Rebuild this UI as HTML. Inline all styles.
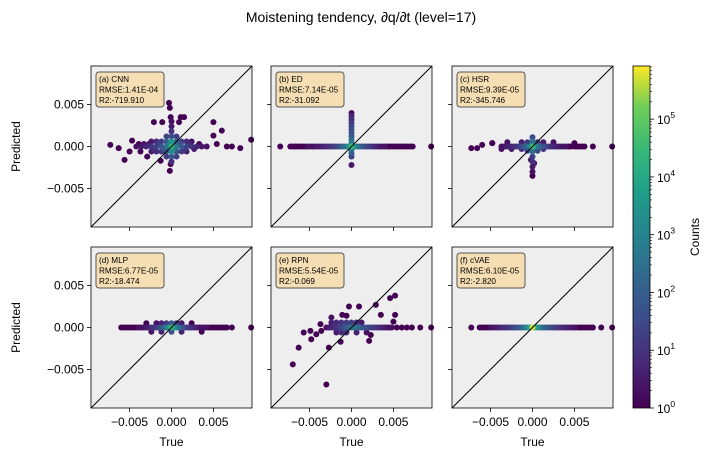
<!DOCTYPE html>
<html><head><meta charset="utf-8"><style>
body{margin:0;background:#fff;}
svg{display:block;font-family:"Liberation Sans","DejaVu Sans",sans-serif;}
</style></head><body>
<svg id="fig" width="713" height="461" viewBox="0 0 713 461">
<defs>
<linearGradient id="vir" x1="0" y1="1" x2="0" y2="0">
<stop offset="0" stop-color="#440154"/><stop offset="0.13" stop-color="#482878"/><stop offset="0.25" stop-color="#3e4989"/><stop offset="0.38" stop-color="#31688e"/><stop offset="0.5" stop-color="#26828e"/><stop offset="0.63" stop-color="#1f9e89"/><stop offset="0.75" stop-color="#35b779"/><stop offset="0.88" stop-color="#6ece58"/><stop offset="1" stop-color="#fde725"/>
</linearGradient>
</defs>
<text x="361" y="22" text-anchor="middle" font-size="14">Moistening tendency, ∂q/∂t (level=17)</text>
<g id="panels"></g>
<g>
<rect x="633" y="66" width="17" height="342" fill="url(#vir)" stroke="#000" stroke-width="0.8"/>
<g id="cbticks"></g>
<text transform="translate(699,237) rotate(-90)" text-anchor="middle" font-size="12">Counts</text>
</g>
</svg>
<script>
// data in units of 1e-3
const xTickVals = [-5, 0, 5];
const xTickLabels = ["\u22120.005", "0.000", "0.005"];
const yTickVals = [5, 0, -5];
const yTickLabels = ["0.005", "0.000", "\u22120.005"];
const panelLabels = ["(a) CNN","(b) ED","(c) HSR","(d) MLP","(e) RPN","(f) cVAE"];
const rmseLabels = ["RMSE:1.41E-04","RMSE:7.14E-05","RMSE:9.39E-05","RMSE:6.77E-05","RMSE:5.54E-05","RMSE:6.10E-05"];
const r2Labels = ["R2:-719.910","R2:-31.092","R2:-345.746","R2:-18.474","R2:-0.069","R2:-2.820"];

const aX=[-7.3,-6.3,-5.6,-5,-4.7,-3.7,-2.9,-2.1,-1.1,-0.3,-0.2,-0.1,1.1,1.5,0.9,5,6,5,5.4,8.2,9.5,6.6,7.2,-0.2,-0.1,-1.3,-4.2,-3.6,-3,-2.4,-1.8,-1.2,-0.6,0,0.6,1.2,1.8,2.4,3,3.6,4.2,-2.4,-1.8,-1.2,-0.6,0,0.6,1.2,1.8,2.4,-2.4,-1.8,-1.2,-0.6,0,0.6,1.2,1.8,0,0,0,0,-0.6,0.6,-0.6,0.6,0,0,-3.9,-3.3,-2.7,-2.1,-1.5,-0.9,-0.3,0.3,0.9,1.5,2.1,2.7,3.3];
const aY=[0.2,-0.2,-1.6,-0.6,0.7,-0.6,-1.2,2.9,2.9,5.2,4.6,3.5,3.5,3.5,2.9,2.9,1.9,1.3,0.3,-0.2,0.8,0,0,-2.9,-2.1,-1.7,0,0,0,0,0,0,0,0,0,0,0,0,0,0,0,0.6,0.6,0.6,0.6,0.6,0.6,0.6,0.6,0.6,-0.6,-0.6,-0.6,-0.6,-0.6,-0.6,-0.6,-0.6,1.2,1.8,2.4,-1.2,1.2,1.2,-1.2,-1.2,-1.8,3.0,0.3,0.3,0.3,-0.3,0.3,-0.3,0.3,-0.3,0.3,-0.3,0.3,-0.3,0.3];
const aC=[1,1,1,1,1,1,1,1,1,1,1,1,1,1,1,1,1,1,1,1,1,1,1,1,1,1,2,3,5,10,20,60,300,20000,400,80,20,10,5,3,2,3,6,15,80,3000,100,20,6,2,3,6,15,60,1500,60,15,4,40,10,3,60,20,20,15,15,8,2,1,2,3,8,20,60,500,500,50,15,6,3,1];

const bX=[-8.5,-7.3,-7,-6.7,-6.4,-6.1,-5.8,-5.5,-5.2,-4.9,-4.6,-4.3,-4,-3.7,-3.4,-3.1,-2.8,-2.5,-2.2,-1.9,-1.6,-1.3,-1,-0.7,-0.35,0,0.35,0.7,1,1.3,1.6,1.9,2.2,2.5,2.8,3.1,3.4,3.7,4,4.3,4.6,4.9,5.2,5.5,5.8,6.1,6.4,6.7,7,7.3,9.5,0,0,0,0,0,0,0,0,0,0,0,0,0,0];
const bY=[0,0,0,0,0,0,0,0,0,0,0,0,0,0,0,0,0,0,0,0,0,0,0,0,0,0,0,0,0,0,0,0,0,0,0,0,0,0,0,0,0,0,0,0,0,0,0,0,0,0,0,0.4,0.8,1.2,1.6,2.0,2.4,2.8,3.2,3.6,4.0,-0.4,-0.8,-1.2,-2.2];
const bC=[1,1,1,1,1,1,1,1,2,2,2,2,3,3,4,5,6,8,12,20,30,60,100,400,2000,30000,1500,300,100,40,25,15,10,6,4,3,2,2,2,1,1,1,1,1,1,1,1,1,1,1,1,500,200,80,60,40,30,15,8,5,2,300,80,20,3];

const cX=[-7.3,-6.6,-6,-4.8,-3.7,-3.4,-3.1,-2.8,-2.5,-2.2,-1.9,-1.6,-1.3,-1,-0.7,-0.35,0,0.35,0.7,1,1.3,1.6,1.9,2.2,2.5,2.8,3.1,3.4,3.7,4,4.3,4.6,5,5.3,5.6,5.9,6.2,7.2,9.5,-4.8,-3,-1.3,-0.6,0,0.6,1.3,2.5,5,-3.7,-2.5,-1.3,-0.6,0,0.6,1.3,0,0,0,0,0,0,-0.2,0.2];
const cY=[-0.2,-0.2,0.2,0.4,0,0,0,0,0,0,0,0,0,0,0,0,0,0,0,0,0,0,0,0,0,0,0,0,0,0,0,0,0,0,0,0,0,0,0,0.4,0.5,0.5,0.5,0.6,0.5,0.5,0.5,0.4,-0.3,-0.3,-0.3,-0.5,-0.6,-0.5,-0.3,1.1,-1.2,-1.8,-2.4,-3.0,-3.5,-1.6,-2.0];
const cC=[1,1,1,1,2,2,3,4,5,7,10,15,30,60,150,800,30000,900,200,60,40,20,10,6,5,3,3,2,2,2,1,1,1,1,1,1,1,1,1,1,2,4,15,400,15,3,2,1,2,3,8,30,300,30,8,30,20,8,3,2,1,4,3];

const dX=[-6,-5.7,-5.4,-5.1,-4.8,-4.5,-4.2,-3.9,-3.6,-3.3,-3,-2.7,-2.4,-2.1,-1.8,-1.5,-1.2,-0.9,-0.6,-0.3,0,0.3,0.6,0.9,1.2,1.5,1.8,2.1,2.4,2.7,3,3.3,3.6,3.9,4.2,4.5,4.8,5.1,5.4,5.7,6,6.3,6.6,7.2,9.5,-3,-1.8,-1.2,-0.6,0,0.6,1.2,2.4,-2.4,-1.2,0,1.2,3.6];
const dY=[0,0,0,0,0,0,0,0,0,0,0,0,0,0,0,0,0,0,0,0,0,0,0,0,0,0,0,0,0,0,0,0,0,0,0,0,0,0,0,0,0,0,0,0,0,0.5,0.5,0.5,0.5,0.5,0.5,0.5,0.5,-0.5,-0.5,-0.5,-0.5,-0.5];
const dC=[1,1,1,1,1,1,1,2,2,2,3,4,6,10,15,25,60,150,400,2000,20000,2000,500,150,60,25,15,10,6,4,3,2,2,2,2,1,1,1,1,1,1,1,1,1,1,1,2,4,15,60,10,3,1,2,4,40,4,1];

const eX=[-7,-6.3,-5.7,-4.9,-4.8,-3.7,-3.6,-2.7,-3,-1.3,-1.1,-0.3,0.9,2.9,5.2,4.6,3.5,5.2,5,2.1,2.3,9.5,-3,-2.4,-1.8,-1.2,-0.6,0,0.6,1.2,1.8,2.4,3,3.6,4.2,4.8,5.4,6,6.6,7.2,8.2,-2.4,-1.8,-1.2,-0.6,0,0.6,1.2,-1.8,-1.2,-0.6,0.6,1.8,-4.2,-2.4,-0.6,-2.7,-2.1,-1.5,-0.9,-0.3,0.3,0.9,1.5,2.1,2.7,3.3,3.9,4.5];
const eY=[-4.4,-2.4,-0.6,-0.4,-1.4,0.4,-0.4,-2.4,-6.8,-1.7,1.5,2.5,2.5,2.7,3.8,3.5,1.5,1.5,0.7,-1.6,-0.9,0,0,0,0,0,0,0,0,0,0,0,0,0,0,0,0,0,0,0,0,0.6,0.6,0.6,0.6,0.6,0.6,0.6,-0.6,-0.6,-0.6,-0.6,-0.6,-0.8,1.2,1.4,0,0,0,0,0,0,0,0,0,0,0,0,0];
const eC=[1,1,1,1,1,1,1,1,1,1,1,1,1,1,1,1,1,1,1,1,1,1,2,4,8,20,60,300,200,60,30,15,8,4,2,2,1,1,1,1,1,4,6,10,20,15,6,3,3,6,8,4,2,1,2,1,3,6,12,40,150,250,100,40,20,10,5,3,2];

const fX=[-7.3,-6.3,-6,-5.7,-5.4,-5.1,-4.8,-4.5,-4.2,-3.9,-3.6,-3.3,-3,-2.7,-2.4,-2.1,-1.8,-1.5,-1.2,-0.9,-0.6,-0.3,0,0.3,0.6,0.9,1.2,1.5,1.8,2.1,2.4,2.7,3,3.3,3.6,3.9,4.2,4.5,4.8,5.1,5.4,5.7,6,6.3,6.6,6.9,7.2,8.2,9.5];
const fY=[0,0,0,0,0,0,0,0,0,0,0,0,0,0,0,0,0,0,0,0,0,0,0,0,0,0,0,0,0,0,0,0,0,0,0,0,0,0,0,0,0,0,0,0,0,0,0,0,0];
const fC=[1,1,1,1,1,2,2,3,3,4,5,7,10,14,20,30,50,80,150,400,1500,8000,500000,8000,1500,400,150,80,50,30,20,14,10,7,5,4,3,3,2,2,1,1,1,1,1,1,1,1,1];

const allX=[aX,bX,cX,dX,eX,fX], allY=[aY,bY,cY,dY,eY,fY], allC=[aC,bC,cC,dC,eC,fC];

const cbExp=[0,1,2,3,4,5];
const cbMaxLog=5.92;

const NS="http://www.w3.org/2000/svg";
const lefts=[91,271,452], tops=[66,247], W=161, H=161, LIM=9.6;
const vir=[[68,1,84],[72,40,120],[62,73,137],[49,104,142],[38,130,142],[31,158,137],[53,183,121],[110,206,88],[253,231,37]];
function color(c){let t=Math.log10(c)/cbMaxLog;t=Math.max(0,Math.min(1,t));const p=t*(vir.length-1),i=Math.min(vir.length-2,Math.floor(p)),f=p-i;const a=vir[i],b=vir[i+1];return `rgb(${a.map((v,k)=>Math.round(v+(b[k]-v)*f)).join(",")})`;}
function mk(tag,attrs,parent){const e=document.createElementNS(NS,tag);for(const k in attrs)e.setAttribute(k,attrs[k]);parent.appendChild(e);return e;}
const root=document.getElementById("panels");
for(let p=0;p<6;p++){
  const col=p%3,row=Math.floor(p/3),L=lefts[col],T=tops[row];
  const sx=v=>L+(v+LIM)/(2*LIM)*W, sy=v=>T+H-(v+LIM)/(2*LIM)*H;
  const g=mk("g",{},root);
  
  
  const bg=mk("rect",{x:L,y:T,width:W,height:H,fill:"#eeeeee"},g);
  
  
  const order=allC[p].map((c,i)=>i).sort((i,j)=>allC[p][i]-allC[p][j]);
  for(const i of order){
    const d=mk("circle",{cx:sx(allX[p][i]),cy:sy(allY[p][i]),r:3.0,fill:color(allC[p][i])},g);
    
    
  }
  const ln=mk("line",{x1:sx(-LIM),y1:sy(-LIM),x2:sx(LIM),y2:sy(LIM),stroke:"#000","stroke-width":1},g);
  
  
  const fr=mk("rect",{x:L,y:T,width:W,height:H,fill:"none",stroke:"#000","stroke-width":0.8},g);
  
  
  const box=mk("rect",{x:L+5,y:T+6,width:68,height:35,rx:3,fill:"#f5deb3",stroke:"#555","stroke-width":1},g);
  
  
  [panelLabels[p],rmseLabels[p],r2Labels[p]].forEach((s,k)=>{
    const t=mk("text",{x:L+8,y:T+16+k*10.5,"font-size":8.2},g);t.textContent=s;
    
    
  });
  xTickVals.forEach((v,k)=>{
    mk("line",{x1:sx(v),x2:sx(v),y1:T+H,y2:T+H+4,stroke:"#000","stroke-width":0.8},g);
    if(row===1){const t=mk("text",{x:sx(v),y:T+H+18,"font-size":12,"text-anchor":"middle"},g);t.textContent=xTickLabels[k];
      
      }
  });
  yTickVals.forEach((v,k)=>{
    mk("line",{x1:L-4,x2:L,y1:sy(v),y2:sy(v),stroke:"#000","stroke-width":0.8},g);
    if(col===0){const t=mk("text",{x:L-7,y:sy(v)+4,"font-size":12,"text-anchor":"end"},g);t.textContent=yTickLabels[k];
      
      }
  });
  if(row===1){const t=mk("text",{x:L+W/2,y:446,"font-size":12,"text-anchor":"middle"},g);t.textContent="True";
    
    }
  if(col===0){const t=mk("text",{transform:`translate(20,${T+H/2}) rotate(-90)`,"font-size":12,"text-anchor":"middle"},g);t.textContent="Predicted";
    
    }
}
const cb=document.getElementById("cbticks");
const cy=e=>408-(e/cbMaxLog)*342;
cbExp.forEach(e=>{
  mk("line",{x1:650,x2:654,y1:cy(e),y2:cy(e),stroke:"#000","stroke-width":0.8},cb);
  const t=mk("text",{x:657,y:cy(e)+5,"font-size":12},cb);
  t.textContent="10";
  const s=mk("tspan",{dy:-6,"font-size":8.5},t);s.textContent=String(e);
  
  
  for(let m=2;m<10;m++){const ee=e+Math.log10(m);if(ee<cbMaxLog)mk("line",{x1:650,x2:652,y1:cy(ee),y2:cy(ee),stroke:"#000","stroke-width":0.6},cb);}
});
</script>
</body></html>
